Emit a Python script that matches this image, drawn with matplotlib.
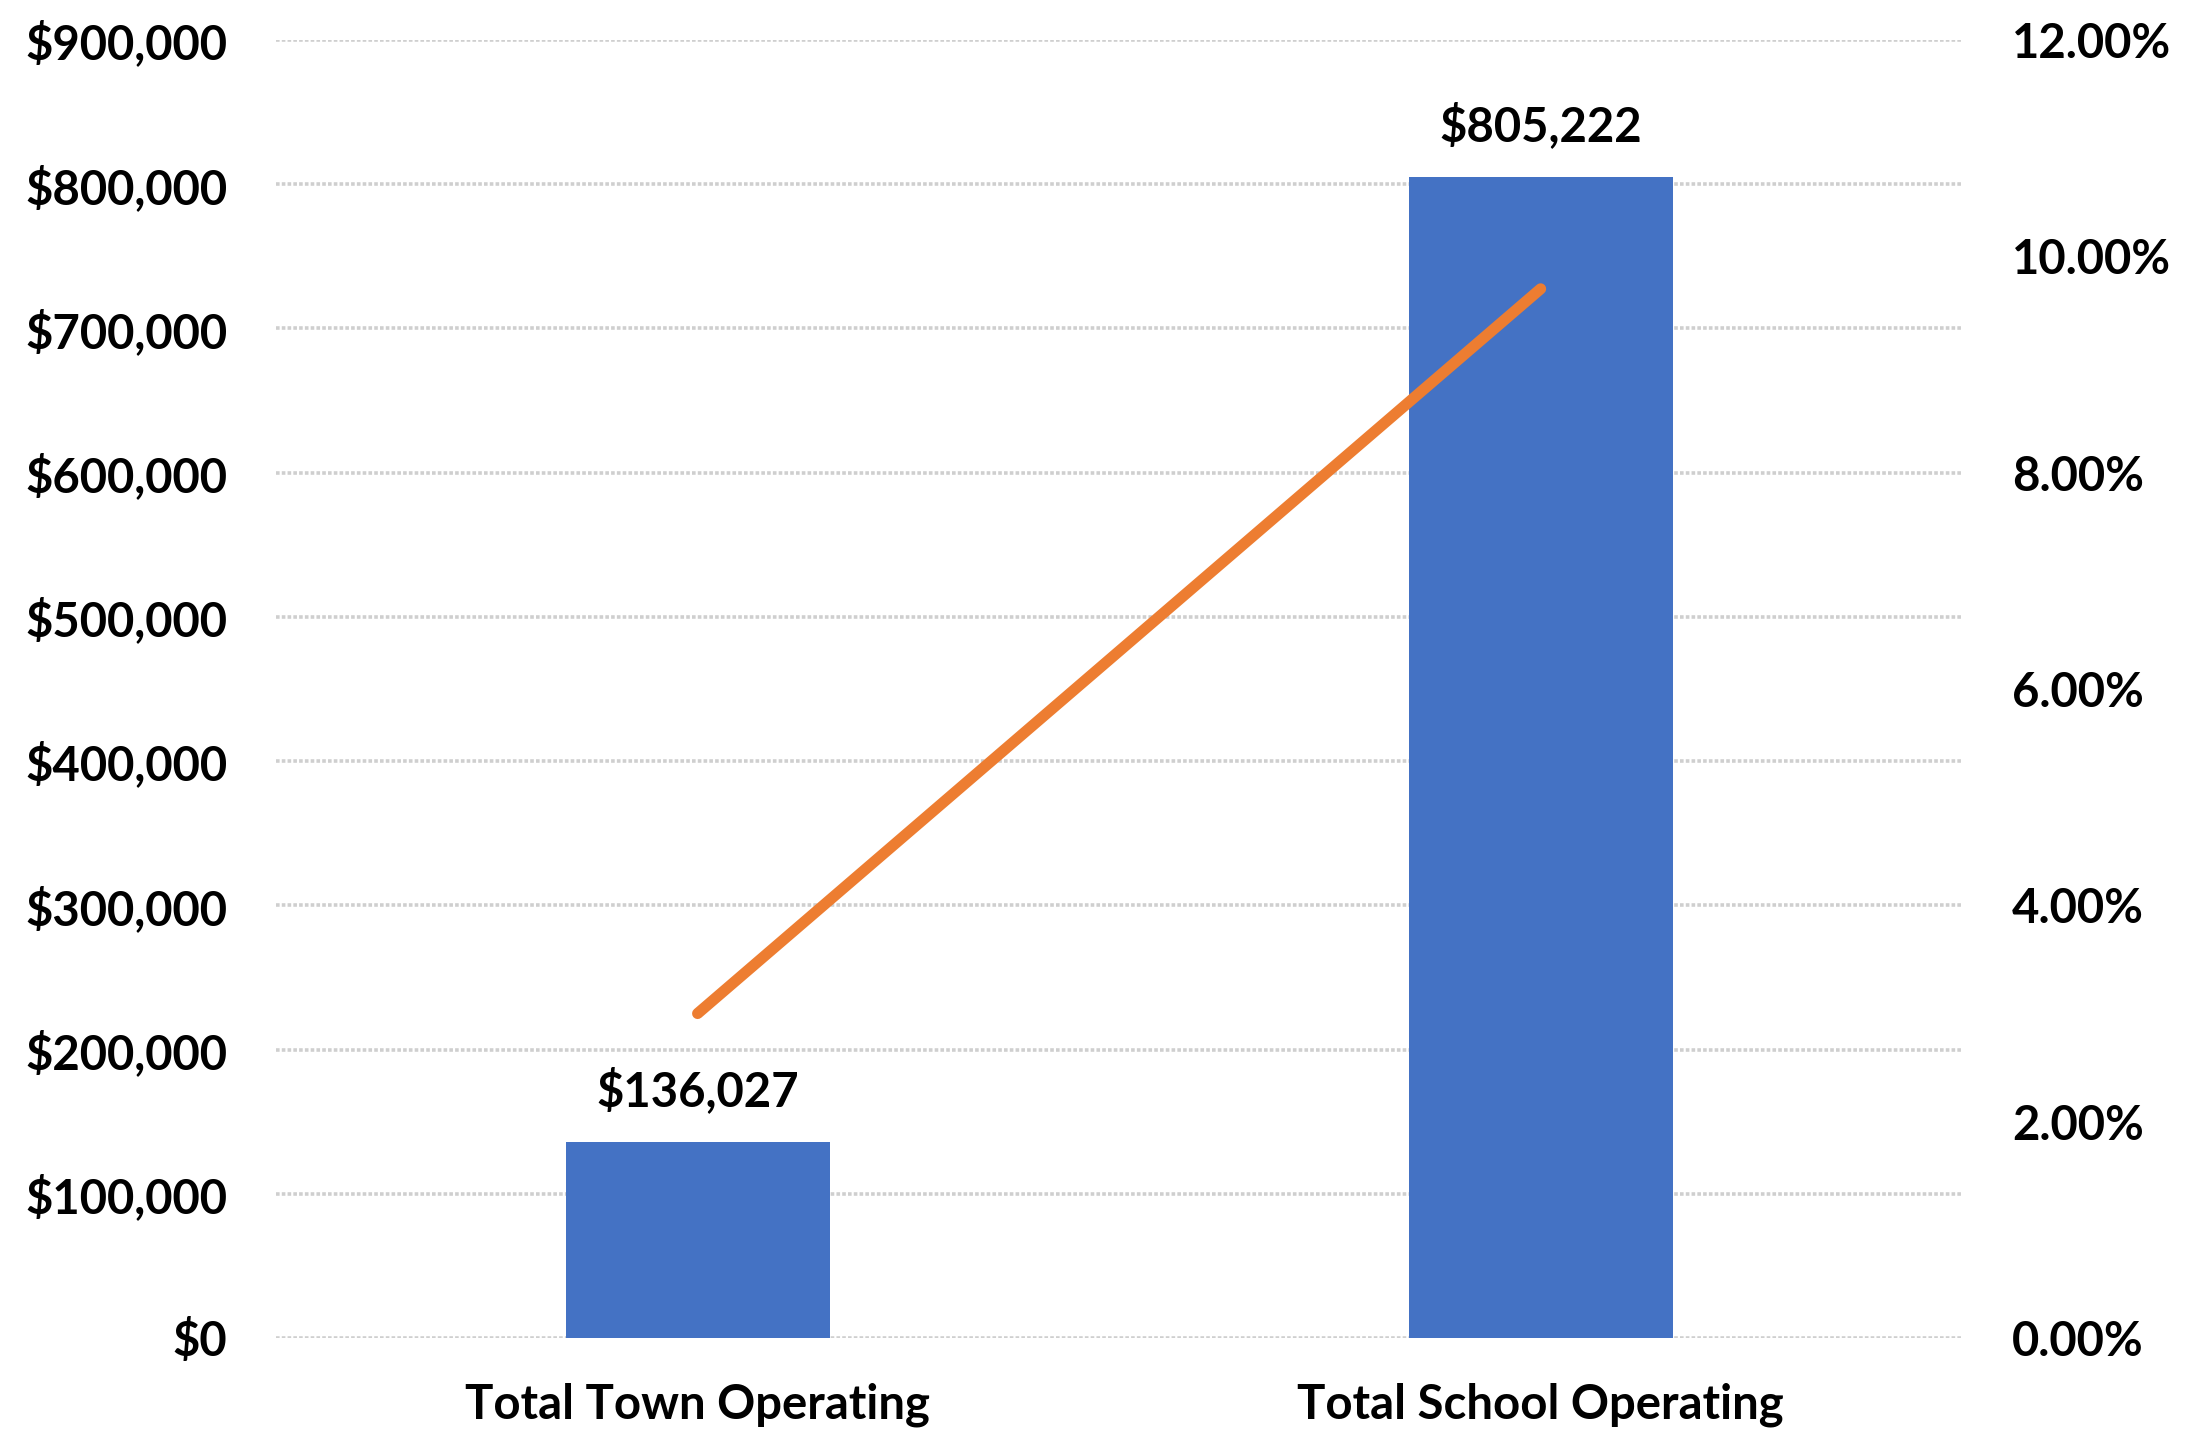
import numpy as np
import matplotlib.pyplot as plt
from matplotlib.ticker import FuncFormatter

categories = ["Total Town Operating", "Total School Operating"]
amounts = [136027, 805222]
pct_change = [3.00, 9.70]

plt.rcParams['font.family'] = ['Lato', 'DejaVu Sans']
plt.rcParams['font.weight'] = 'bold'

fig = plt.figure(figsize=(21.86, 14.31), dpi=100)
ax = fig.add_axes([0.1263, 0.065, 0.7713, 0.907])
ax2 = ax.twinx()

x = np.arange(len(categories))
bars = ax.bar(x, amounts, width=0.313, color='#4472C4', zorder=3)
for xi, v in zip(x, amounts):
    ax.text(xi, v + 19000, f"${v:,.0f}", ha='center', va='bottom', fontsize=34, fontweight='bold')

ax.set_xlim(-0.5, 1.5)
ax.set_ylim(0, 900000)
ax.set_yticks(np.arange(0, 900001, 100000))
ax.yaxis.set_major_formatter(FuncFormatter(lambda v, p: f"${v:,.0f}"))
ax.set_xticks(x)
ax.set_xticklabels(categories)
ax.grid(axis='y', color='#cfcfcf', linewidth=2.6, linestyle=(0, (1, 0.6)), zorder=0)
ax.set_axisbelow(True)

ax2.plot(x, pct_change, color='#ED7D31', linewidth=8, solid_capstyle='round', zorder=5)
ax2.set_ylim(0, 12)
ax2.set_yticks(np.arange(0, 12.01, 2))
ax2.yaxis.set_major_formatter(FuncFormatter(lambda v, p: f"{v:.2f}%"))

for a in (ax, ax2):
    for s in a.spines.values():
        s.set_visible(False)
    a.tick_params(length=0, labelsize=34)
ax.tick_params(axis='y', pad=35)
ax.tick_params(axis='x', pad=32)
ax2.tick_params(axis='y', pad=36)
for lbl in ax.get_yticklabels() + ax.get_xticklabels() + ax2.get_yticklabels():
    lbl.set_fontweight('bold')

fig.savefig("out.png", dpi=100)
